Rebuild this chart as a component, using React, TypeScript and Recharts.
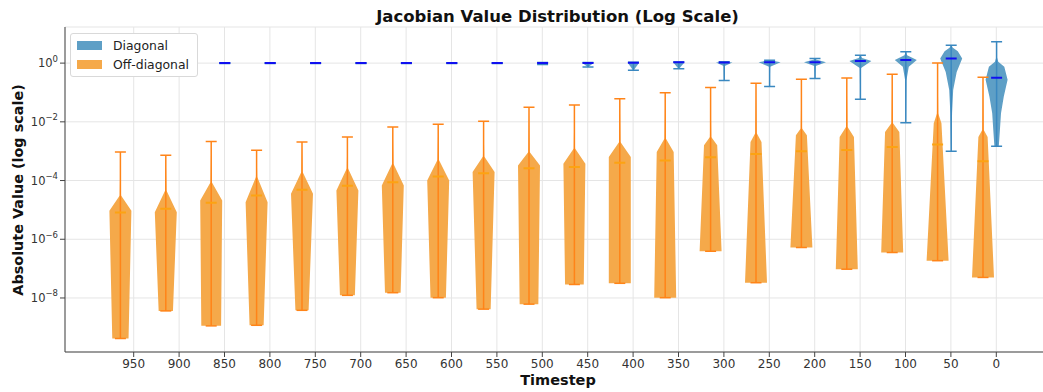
import React from "react";
import { BarChart, Bar, XAxis, YAxis, CartesianGrid, Legend } from "recharts";

// timesteps, left to right
const steps = ["950", "900", "850", "800", "750", "700", "650", "600", "550", "500",
  "450", "400", "350", "300", "250", "200", "150", "100", "50", "0"];

// Off-diagonal entries (log10 of |value|)
const offMin = [-9.38, -8.44, -8.95, -8.93, -8.42, -7.91, -7.82, -7.99, -8.38, -8.21,
  -7.54, -7.5, -7.99, -6.41, -7.48, -6.28, -7.02, -6.45, -6.73, -7.3];
const offMax = [-3.03, -3.14, -2.67, -2.97, -2.69, -2.52, -2.18, -2.08, -1.98, -1.5,
  -1.43, -1.21, -1.01, -0.83, -0.69, -0.55, -0.51, -0.38, 0.0, -0.48];
const offMedian = [-5.09, -4.96, -4.76, -4.51, -4.31, -4.18, -4.06, -3.86, -3.75, -3.58,
  -3.54, -3.39, -3.32, -3.21, -3.1, -3.0, -2.96, -2.86, -2.77, -3.34];
// density outline: [log10 value, relative width]
const offProfile = [
  [[-9.38, 0.74], [-5.03, 1], [-4.51, 0.06], [-3.03, 0]],
  [[-8.44, 0.65], [-5.08, 1], [-4.34, 0.06], [-3.14, 0]],
  [[-8.95, 0.9], [-4.68, 1], [-4.06, 0.06], [-2.67, 0]],
  [[-8.93, 0.64], [-4.74, 1], [-3.88, 0.06], [-2.97, 0]],
  [[-8.42, 0.6], [-4.45, 1], [-3.71, 0.06], [-2.69, 0]],
  [[-7.91, 0.68], [-4.34, 1], [-3.59, 0.06], [-2.52, 0]],
  [[-7.82, 0.71], [-4.17, 1], [-3.43, 0.06], [-2.18, 0]],
  [[-7.99, 0.7], [-4.0, 1], [-3.29, 0.06], [-2.08, 0]],
  [[-8.38, 0.64], [-3.71, 1], [-3.18, 0.06], [-1.98, 0]],
  [[-8.21, 0.85], [-3.49, 1], [-3.03, 0.06], [-1.5, 0]],
  [[-7.54, 0.85], [-3.43, 1], [-2.91, 0.06], [-1.43, 0]],
  [[-7.5, 1], [-3.2, 1], [-2.69, 0.06], [-1.21, 0]],
  [[-7.99, 1], [-3.03, 0.77], [-2.57, 0.06], [-1.01, 0]],
  [[-6.41, 1], [-2.8, 0.6], [-2.52, 0.06], [-0.83, 0]],
  [[-7.48, 1], [-2.69, 0.5], [-2.38, 0.06], [-0.69, 0]],
  [[-6.28, 1], [-2.46, 0.5], [-2.23, 0.06], [-0.55, 0]],
  [[-7.02, 1], [-2.52, 0.65], [-2.17, 0.06], [-0.51, 0]],
  [[-6.45, 1], [-2.35, 0.65], [-2.04, 0.06], [-0.38, 0]],
  [[-6.73, 1], [-2.05, 0.35], [-1.72, 0.06], [0.0, 0]],
  [[-7.3, 1], [-2.52, 0.42], [-2.27, 0.06], [-0.48, 0]],
];

// Diagonal entries (log10 of |value|)
const diagMin = [-0.015, -0.015, -0.015, -0.015, -0.015, -0.015, -0.015, -0.015, -0.015, -0.05,
  -0.13, -0.24, -0.19, -0.59, -0.8, -0.52, -1.23, -2.03, -3.0, -2.83];
const diagMax = [0.015, 0.015, 0.015, 0.015, 0.015, 0.015, 0.015, 0.015, 0.015, 0.02,
  0.02, 0.03, 0.04, 0.05, 0.1, 0.16, 0.27, 0.39, 0.61, 0.73];
const diagMedian = [0, 0, 0, 0, 0, 0, 0, 0, 0, 0,
  0, 0.01, 0.03, 0.02, 0.03, 0.03, 0.07, 0.11, 0.16, -0.5];
const flatDiag = [[-0.015, 0.3], [0, 0.5], [0.015, 0.3]];
const diagProfile = [
  flatDiag, flatDiag, flatDiag, flatDiag, flatDiag, flatDiag, flatDiag, flatDiag, flatDiag,
  [[-0.05, 0.1], [0, 0.5], [0.02, 0.2]],
  [[-0.13, 0.03], [0, 0.5], [0.02, 0.1]],
  [[-0.24, 0.03], [0, 0.5], [0.03, 0.1]],
  [[-0.19, 0.03], [0.02, 0.5], [0.04, 0.1]],
  [[-0.59, 0.02], [-0.1, 0.05], [0.02, 0.75], [0.05, 0.05]],
  [[-0.8, 0.02], [-0.12, 0.05], [0.03, 1.0], [0.1, 0.03]],
  [[-0.52, 0.02], [-0.1, 0.06], [0.03, 1.0], [0.12, 0.1], [0.16, 0.02]],
  [[-1.23, 0.02], [-0.17, 0.06], [0.07, 1.0], [0.17, 0.15], [0.27, 0.02]],
  [[-2.03, 0.02], [-0.58, 0.06], [-0.12, 0.27], [0.11, 1.0], [0.27, 0.12], [0.39, 0.02]],
  [[-3.0, 0.02], [-1.7, 0.08], [-0.92, 0.18], [-0.3, 0.5], [0.16, 1.0], [0.4, 0.6], [0.52, 0.15], [0.61, 0.02]],
  [[-2.83, 0.2], [-2.29, 0.3], [-1.71, 0.4], [-1.15, 0.65], [-0.57, 1.0], [-0.12, 0.7], [0.05, 0.15], [0.2, 0.03], [0.73, 0.02]],
];

const yTicks = [1e-8, 1e-6, 1e-4, 1e-2, 1];
const yDomain = [10 ** -9.84, 10 ** 1.23];

const data = steps.map((step, i) => ({
  step,
  i,
  off: [10 ** offMin[i], 10 ** offMax[i]],
  diag: [10 ** diagMin[i], 10 ** diagMax[i]],
}));

const FONT = "'DejaVu Sans', sans-serif";

const ORANGE = { body: "#F5A94A", line: "#FF8418", median: "#FCA312" };
const BLUE = { body: "#5E9FC6", line: "#3A88C0", median: "#1010F0" };

const makeViolin = (
  min: number[],
  max: number[],
  median: number[],
  profile: number[][][],
  c: { body: string; line: string; median: string }
) => (props: any) => {
  const { x, y, width, height, payload } = props;
  const i = payload.i;
  const lo = min[i];
  const hi = max[i];
  const top = Math.min(y, y + height);
  const bot = Math.max(y, y + height);
  // bar spans [lo, hi] on a log axis, so pixel position is linear in log10
  const py = (e: number) => top + ((hi - e) / (hi - lo)) * (bot - top);
  const cx = x + width / 2;
  const half = width / 2;
  const pts = profile[i];
  const left = pts.map(([e, w]) => `${cx - w * half},${py(e)}`);
  const right = pts
    .slice()
    .reverse()
    .map(([e, w]) => `${cx + w * half},${py(e)}`);
  const cap = half / 2;
  return (
    <g>
      <polygon points={[...left, ...right].join(" ")} fill={c.body} />
      <line x1={cx} x2={cx} y1={py(lo)} y2={py(hi)} stroke={c.line} strokeWidth={1.5} />
      <line x1={cx - cap} x2={cx + cap} y1={py(lo)} y2={py(lo)} stroke={c.line} strokeWidth={1.5} />
      <line x1={cx - cap} x2={cx + cap} y1={py(hi)} y2={py(hi)} stroke={c.line} strokeWidth={1.5} />
      <line
        x1={cx - cap}
        x2={cx + cap}
        y1={py(median[i])}
        y2={py(median[i])}
        stroke={c.median}
        strokeWidth={2}
      />
    </g>
  );
};

const OffViolin = makeViolin(offMin, offMax, offMedian, offProfile, ORANGE);
const DiagViolin = makeViolin(diagMin, diagMax, diagMedian, diagProfile, BLUE);

const LogTick = (props: any) => {
  const { x, y, payload } = props;
  const e = Math.round(Math.log10(payload.value));
  const sup = e < 0 ? `\u2212${-e}` : `${e}`;
  return (
    <text x={x} y={y + 4} textAnchor="end" fontSize={11.5} fill="#333" fontFamily={FONT}>
      10
      <tspan dy={-5.5} fontSize={8.5}>
        {sup}
      </tspan>
    </text>
  );
};

const renderLegend = (props: any) => (
  <div
    style={{
      border: "1px solid #d9d9d9",
      borderRadius: 3,
      background: "#fff",
      padding: "2px 8px 2px 6px",
      fontFamily: FONT,
      fontSize: 12.4,
      color: "#222",
    }}
  >
    {(props.payload || []).map((item: any) => (
      <div key={item.value} style={{ display: "flex", alignItems: "center", height: 19 }}>
        <span
          style={{
            display: "inline-block",
            width: 25,
            height: 9,
            background: item.color,
            marginRight: 11,
          }}
        />
        {item.value}
      </div>
    ))}
  </div>
);

export default function App() {
  return (
    <div
      style={{
        position: "absolute",
        left: 0,
        top: 0,
        width: 1043,
        height: 392,
        overflow: "hidden",
        background: "#fff",
        fontFamily: FONT,
      }}
    >
      <BarChart
        width={1052}
        height={392}
        data={data}
        margin={{ top: 27, right: 2, bottom: 0, left: 8 }}
      >
        <CartesianGrid xAxisId="main" stroke="#E5E5E5" strokeWidth={1} />
        <XAxis
          xAxisId="main"
          dataKey="step"
          height={40}
          padding={{ left: 46, right: 31 }}
          tickSize={5}
          tickMargin={2}
          tick={{ fontSize: 12, fill: "#333", fontFamily: FONT }}
          axisLine={{ stroke: "#444" }}
          tickLine={{ stroke: "#444" }}
          interval={0}
        />
        <XAxis
          xAxisId="off"
          dataKey="step"
          orientation="top"
          height={0}
          padding={{ left: 32.4, right: 44.6 }}
          tick={false}
          tickLine={false}
          axisLine={{ stroke: "#444" }}
        />
        <YAxis
          scale="log"
          domain={yDomain}
          allowDataOverflow
          ticks={yTicks}
          width={57}
          tickSize={5}
          tickMargin={2}
          tick={<LogTick />}
          axisLine={{ stroke: "#444" }}
          tickLine={{ stroke: "#444" }}
          interval={0}
        />
        <Bar
          xAxisId="main"
          dataKey="diag"
          name="Diagonal"
          fill={BLUE.body}
          barSize={22}
          shape={DiagViolin}
          isAnimationActive={false}
        />
        <Bar
          xAxisId="off"
          dataKey="off"
          name="Off-diagonal"
          fill={ORANGE.body}
          barSize={22}
          shape={OffViolin}
          isAnimationActive={false}
        />
        <Legend
          layout="horizontal"
          verticalAlign="middle"
          align="center"
          content={renderLegend}
          wrapperStyle={{ left: 70, top: 33, width: "auto" }}
        />
      </BarChart>
      <svg
        width={1043}
        height={392}
        style={{ position: "absolute", left: 0, top: 0, pointerEvents: "none" }}
      >
        <text x={557.5} y={21.5} textAnchor="middle" fontSize={16.5} fontWeight="bold" fill="#111" fontFamily={FONT}>
          Jacobian Value Distribution (Log Scale)
        </text>
        <text x={558} y={384.5} textAnchor="middle" fontSize={14.5} fontWeight="bold" fill="#111" fontFamily={FONT}>
          Timestep
        </text>
        <text
          x={0}
          y={0}
          transform="translate(22.5, 190) rotate(-90)"
          textAnchor="middle"
          fontSize={14.4}
          fontWeight="bold"
          fill="#111"
          fontFamily={FONT}
        >
          Absolute Value (log scale)
        </text>
      </svg>
    </div>
  );
}
